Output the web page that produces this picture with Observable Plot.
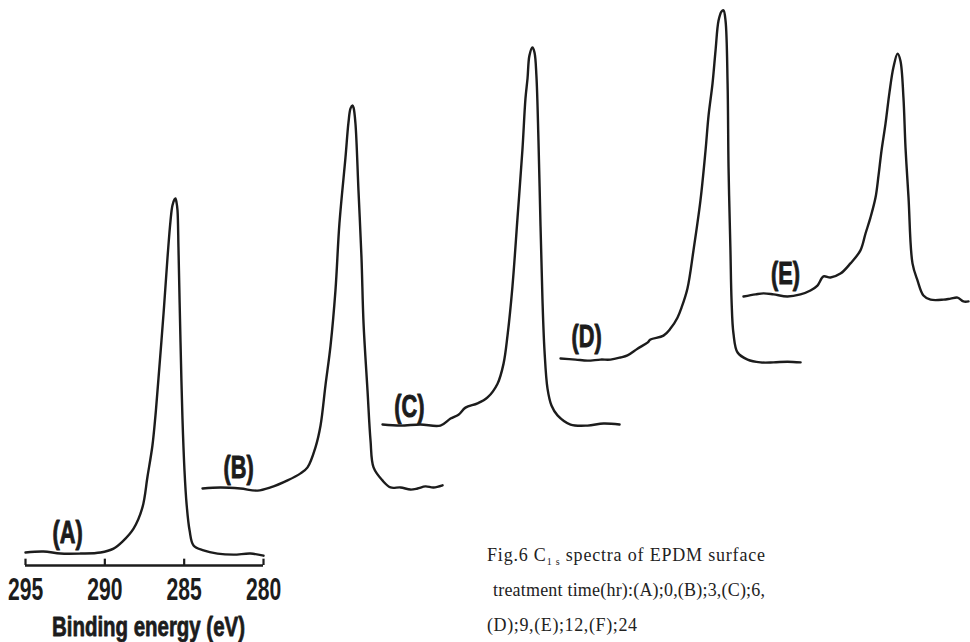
<!DOCTYPE html>
<html>
<head>
<meta charset="utf-8">
<script src="https://cdn.jsdelivr.net/npm/d3@7"></script>
<script src="https://cdn.jsdelivr.net/npm/@observablehq/plot@0.6"></script>
<style>
  html, body { margin: 0; padding: 0; background: #fff; }
  #figure { position: relative; width: 970px; height: 642px; overflow: hidden; }
  #figure > svg { display: block; }
  #caption { position: absolute; left: 0; top: 0; overflow: visible; }
  #caption text { font-family: "Liberation Serif", "DejaVu Serif", serif; font-size: 18px; fill: #222; }
</style>
</head>
<body>
<div id="figure">
<svg id="caption" width="970" height="642" aria-label="caption">
  <text x="487" y="561" textLength="278" lengthAdjust="spacing">Fig.6 C<tspan font-size="10" dy="4">1 s</tspan><tspan dy="-4"> spectra of EPDM surface</tspan></text>
  <text x="493" y="596" textLength="272" lengthAdjust="spacing">treatment time(hr):(A);0,(B);3,(C);6,</text>
  <text x="487" y="631" textLength="150" lengthAdjust="spacing">(D);9,(E);12,(F);24</text>
</svg>
</div>
<script>
// C1s spectra of EPDM after surface treatment, (A) to (E)
// binding energy in eV, intensity in arbitrary units (each spectrum on its own baseline)
const seriesNames = ["A", "B", "C", "D", "E"];
const seriesLabels = ["(A)", "(B)", "(C)", "(D)", "(E)"];

const energyA = [295.00, 293.87, 292.79, 291.53, 290.27, 289.45, 288.89, 288.19, 287.63, 287.31, 287.00, 286.81, 286.62, 286.30, 286.05, 285.86, 285.74, 285.61, 285.55, 285.48, 285.42, 285.36, 285.30, 285.23, 285.11, 284.98, 284.85, 284.66, 284.41, 283.78, 282.90, 281.89, 280.82, 280.00];
const intensityA = [0.0, 0.3, -0.3, -0.3, 0.0, 1.1, 3.1, 6.8, 12.8, 21.6, 30.4, 38.9, 49.4, 67.9, 83.8, 94.3, 98.6, 100.3, 100.6, 99.4, 97.2, 86.7, 73.9, 59.7, 38.4, 23.3, 13.9, 6.3, 2.0, 0.6, -0.3, -0.6, -0.3, -0.9];

const energyB = [295.00, 293.87, 292.61, 291.53, 290.71, 289.64, 288.82, 288.38, 287.88, 287.56, 287.25, 286.93, 286.62, 286.37, 285.99, 285.80, 285.67, 285.55, 285.48, 285.36, 285.17, 284.98, 284.85, 284.60, 284.41, 284.22, 283.66, 283.15, 282.52, 281.89, 281.45, 280.95, 280.44, 279.87];
const intensityB = [0.0, 0.3, 0.0, -0.6, 0.3, 2.3, 4.3, 6.0, 11.7, 17.9, 29.3, 40.6, 56.3, 75.3, 94.0, 104.0, 108.0, 108.8, 108.2, 103.7, 84.7, 65.6, 46.9, 27.8, 13.6, 6.0, 2.3, 0.3, 0.3, -0.3, 0.0, 0.6, 0.3, 0.9];

const energyC = [295.00, 293.87, 292.61, 291.35, 290.71, 290.21, 289.77, 289.01, 288.38, 287.75, 287.37, 287.12, 286.81, 286.49, 286.18, 285.99, 285.86, 285.74, 285.55, 285.42, 285.30, 285.17, 285.04, 284.92, 284.79, 284.60, 284.35, 283.97, 283.15, 282.08, 281.07, 280.06];
const intensityC = [0.0, -0.3, 0.0, -0.3, 1.7, 2.8, 4.8, 6.0, 7.7, 11.6, 17.3, 25.3, 39.2, 58.8, 78.1, 92.6, 98.3, 104.8, 107.1, 105.7, 99.1, 80.7, 56.3, 35.8, 21.0, 10.2, 5.4, 2.6, 0.0, -0.3, 0.3, 0.0];

const energyD = [295.00, 294.05, 293.30, 292.48, 291.85, 291.22, 290.78, 290.15, 289.52, 289.33, 288.51, 288.07, 287.63, 287.37, 287.00, 286.62, 286.18, 285.86, 285.67, 285.42, 285.23, 285.04, 284.85, 284.73, 284.60, 284.47, 284.41, 284.29, 284.22, 284.10, 283.84, 283.21, 282.40, 281.58, 280.69, 279.87];
const intensityD = [0.0, -0.3, -0.6, -0.3, -0.3, 0.3, 0.9, 2.8, 4.5, 5.4, 6.5, 8.5, 11.6, 14.5, 19.9, 30.7, 44.9, 59.1, 69.0, 78.1, 87.5, 96.0, 98.6, 98.9, 96.0, 78.1, 54.3, 30.7, 16.5, 7.1, 1.7, -0.3, -1.1, -1.1, -0.9, -1.1];

const energyE = [295.00, 294.24, 293.74, 293.11, 292.23, 291.41, 290.78, 290.34, 289.96, 289.52, 288.89, 288.26, 287.63, 287.31, 287.00, 286.68, 286.49, 286.30, 286.05, 285.80, 285.55, 285.29, 285.11, 284.92, 284.79, 284.60, 284.35, 284.03, 283.66, 283.21, 282.40, 281.95, 281.51, 281.14, 280.82];
const intensityE = [0.0, 0.6, 0.9, 0.6, 0.0, 0.6, 1.7, 3.1, 5.7, 5.4, 6.5, 9.4, 13.1, 17.9, 22.4, 28.1, 34.4, 41.5, 49.1, 58.0, 65.1, 69.0, 67.0, 56.5, 42.3, 28.1, 9.4, 4.5, 0.3, -0.9, -0.9, -0.6, -0.3, -1.4, -1.4];

// where each series label sits, in that spectrum's own energy / intensity frame
const labelEnergy = [292.35, 292.73, 293.30, 293.36, 292.35];
const labelIntensity = [5.7, 6.0, 5.1, 6.3, 6.5];

// binding-energy axis (drawn under spectrum A only)
const axisTicks = [295, 290, 285, 280];
const axisTitle = "Binding energy (eV)";
const axisTitleEnergy = 287.25;

// waterfall layout: each spectrum is shifted right (eV) and up (intensity) from the one before
const stackShiftEnergy = [0, 11.155, 22.499, 33.718, 45.251];
const stackShiftIntensity = [0, 18.18, 36.36, 55.11, 72.73];

const energies = [energyA, energyB, energyC, energyD, energyE];
const intensities = [intensityA, intensityB, intensityC, intensityD, intensityE];

const rows = seriesNames.flatMap((name, k) =>
  energies[k].map((e, i) => ({
    series: name,
    x: e - stackShiftEnergy[k],
    y: intensities[k][i] + stackShiftIntensity[k]
  }))
);
const labelRows = seriesNames.map((name, k) => ({
  text: seriesLabels[k],
  x: labelEnergy[k] - stackShiftEnergy[k],
  y: labelIntensity[k] + stackShiftIntensity[k]
}));

const yMin = -3.69;
const ink = "#1c1c1c";

const chart = Plot.plot({
  width: 970,
  height: 642,
  marginLeft: 25,
  marginRight: 0,
  marginTop: 0,
  marginBottom: 77,
  x: {domain: [295, 235.443]},
  y: {domain: [yMin, 156.82], axis: null},
  style: {background: "#fff", fontFamily: "'Liberation Sans', Arial, sans-serif"},
  marks: [
    Plot.ruleY([yMin], {x1: axisTicks[0], x2: axisTicks[axisTicks.length - 1], stroke: ink, strokeWidth: 2.4}),
    Plot.ruleX(axisTicks, {x: d => d, y1: yMin, y2: yMin + 1.8, stroke: ink, strokeWidth: 2.2}),
    Plot.axisX({
      ticks: axisTicks,
      tickSize: 0,
      tickPadding: 12,
      tickFormat: d => String(d),
      label: null,
      fontSize: 32,
      fontWeight: "bold",
      fill: ink,
      stroke: ink,
      strokeWidth: 1
    }),
    Plot.text([axisTitle], {
      x: [axisTitleEnergy],
      text: d => d,
      frameAnchor: "bottom",
      dy: 62,
      lineAnchor: "middle",
      fontSize: 28,
      fontWeight: "bold",
      fill: ink,
      stroke: ink,
      strokeWidth: 0.8
    }),
    Plot.line(rows, {
      x: "x",
      y: "y",
      z: "series",
      curve: "catmull-rom",
      stroke: ink,
      strokeWidth: 2.4,
      strokeLinejoin: "round",
      strokeLinecap: "round"
    }),
    Plot.text(labelRows, {
      x: "x",
      y: "y",
      text: "text",
      lineAnchor: "middle",
      fontSize: 32,
      fontWeight: "bold",
      fill: ink,
      stroke: ink,
      strokeWidth: 1
    })
  ]
});

// narrow the bold lettering horizontally to a condensed face
function widthFactor(s) {
  if (/^\d+$/.test(s)) return 0.66;
  if (s === axisTitle) return 0.73;
  if (seriesLabels.includes(s)) return 0.68;
  return 1;
}
chart.querySelectorAll("text").forEach(t => {
  const f = widthFactor(t.textContent.trim());
  if (f === 1) return;
  const tr = t.getAttribute("transform");
  if (tr) {
    t.setAttribute("transform", `${tr} scale(${f},1)`);
  } else {
    const x = +(t.getAttribute("x") || 0), y = +(t.getAttribute("y") || 0);
    t.setAttribute("transform", `translate(${x},${y}) scale(${f},1) translate(${-x},${-y})`);
  }
});

const fig = document.getElementById("figure");
fig.insertBefore(chart, fig.firstChild);
</script>
</body>
</html>
